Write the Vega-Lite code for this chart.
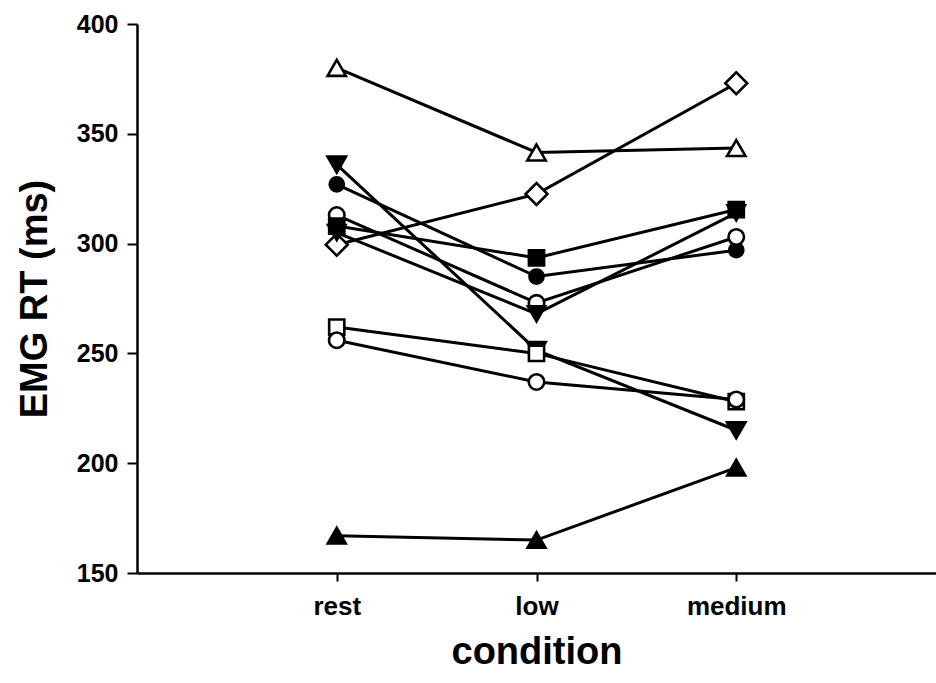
{
  "$schema": "https://vega.github.io/schema/vega-lite/v6.json",
  "autosize": "none",
  "width": 799,
  "height": 549,
  "padding": {"left": 137, "top": 24, "right": 0, "bottom": 110},
  "background": "white",
  "config": {
    "view": {"stroke": null},
    "font": "Liberation Sans",
    "axis": {"grid": false, "domainColor": "black", "tickColor": "black", "labelColor": "black", "titleColor": "black", "labelFont": "Liberation Sans", "titleFont": "Liberation Sans", "labelFontWeight": "bold", "titleFontWeight": "bold"}
  },
  "data": {
    "values": [
      {"subject": "S1", "condition": "rest", "rt": 380},
      {"subject": "S1", "condition": "low", "rt": 341.5},
      {"subject": "S1", "condition": "medium", "rt": 343.5},
      {"subject": "S2", "condition": "rest", "rt": 299.5},
      {"subject": "S2", "condition": "low", "rt": 322.6},
      {"subject": "S2", "condition": "medium", "rt": 373},
      {"subject": "S3", "condition": "rest", "rt": 336},
      {"subject": "S3", "condition": "low", "rt": 251.5},
      {"subject": "S3", "condition": "medium", "rt": 215},
      {"subject": "S4", "condition": "rest", "rt": 327},
      {"subject": "S4", "condition": "low", "rt": 285},
      {"subject": "S4", "condition": "medium", "rt": 297},
      {"subject": "S5", "condition": "rest", "rt": 313},
      {"subject": "S5", "condition": "low", "rt": 273},
      {"subject": "S5", "condition": "medium", "rt": 303},
      {"subject": "S6", "condition": "rest", "rt": 308},
      {"subject": "S6", "condition": "low", "rt": 293.5},
      {"subject": "S6", "condition": "medium", "rt": 315.5},
      {"subject": "S7", "condition": "rest", "rt": 305},
      {"subject": "S7", "condition": "low", "rt": 268},
      {"subject": "S7", "condition": "medium", "rt": 314},
      {"subject": "S8", "condition": "rest", "rt": 262},
      {"subject": "S8", "condition": "low", "rt": 250},
      {"subject": "S8", "condition": "medium", "rt": 228},
      {"subject": "S9", "condition": "rest", "rt": 256},
      {"subject": "S9", "condition": "low", "rt": 237},
      {"subject": "S9", "condition": "medium", "rt": 229},
      {"subject": "S10", "condition": "rest", "rt": 167},
      {"subject": "S10", "condition": "low", "rt": 165},
      {"subject": "S10", "condition": "medium", "rt": 198}
    ]
  },
  "encoding": {
    "x": {
      "field": "condition", "type": "ordinal", "sort": ["rest", "low", "medium"],
      "scale": {"type": "point", "padding": 1},
      "axis": {"title": "condition", "labelAngle": 0, "labelFontSize": 26, "titleFontSize": 38, "tickSize": 8, "tickWidth": 2, "domainWidth": 2.5, "labelPadding": 12, "titlePadding": 14}
    },
    "y": {
      "field": "rt", "type": "quantitative",
      "scale": {"domain": [150, 400], "nice": false, "zero": false},
      "axis": {"title": "EMG RT (ms)", "values": [150, 200, 250, 300, 350, 400], "labelFontSize": 25, "titleFontSize": 38, "tickSize": 10, "tickWidth": 2, "domainWidth": 2.5, "labelPadding": 9, "titlePadding": 22}
    }
  },
  "layer": [
    {
      "mark": {"type": "line", "color": "black", "strokeWidth": 3},
      "encoding": {"detail": {"field": "subject"}}
    },
    {
      "mark": {"type": "point", "stroke": "black", "strokeWidth": 2.6, "opacity": 1},
      "encoding": {
        "shape": {"field": "subject", "type": "nominal", "legend": null,
          "scale": {"domain": ["S1","S2","S3","S4","S5","S6","S7","S8","S9","S10"],
                    "range": ["triangle-up","diamond","triangle-down","circle","circle","square","triangle-down","square","circle","triangle-up"]}},
        "fill": {"field": "subject", "type": "nominal", "legend": null,
          "scale": {"domain": ["S1","S2","S3","S4","S5","S6","S7","S8","S9","S10"],
                    "range": ["white","white","black","black","white","black","black","white","white","black"]}},
        "size": {"field": "subject", "type": "nominal", "legend": null,
          "scale": {"type": "ordinal", "domain": ["S1","S2","S3","S4","S5","S6","S7","S8","S9","S10"],
                    "range": [340, 480, 340, 200, 240, 230, 300, 230, 240, 320]}}
      }
    }
  ]
}
